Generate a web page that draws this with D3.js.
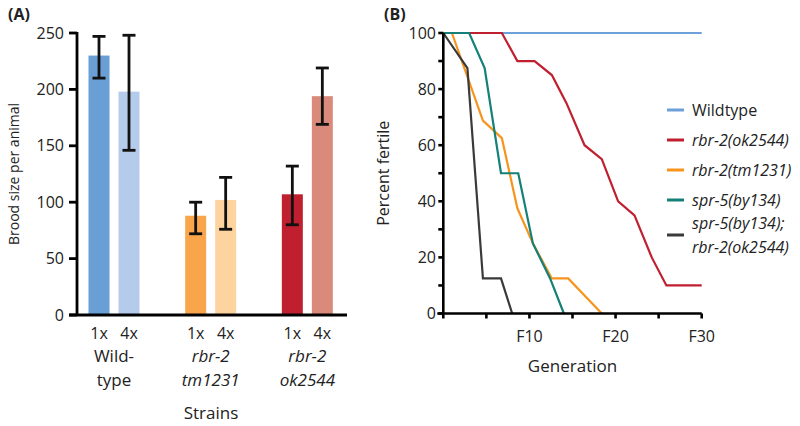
<!DOCTYPE html>
<meta charset="utf-8">
<style>
body { margin: 0; background: #fff; }
text { font-family: "Open Sans", sans-serif; fill: #222; }
</style>
<body>
<script src="https://d3js.org/d3.v7.min.js"></script>
<script>

////*Panel A data*////
const strains = ["wt", "tm1231", "ok2544"];
const strainLines = [["Wild-", "type"], ["rbr-2", "tm1231"], ["rbr-2", "ok2544"]];
const strainItalic = [false, true, true];
const doses = ["1x", "4x"];
const broodMean = [[230, 198], [88, 102], [107, 194]];
const broodLow  = [[210, 146], [72, 76], [80, 169]];
const broodHigh = [[247, 248], [100, 122], [132, 219]];
const barColors = [["#6a9fd6", "#b5cbeb"], ["#f9a54c", "#fdd49f"], ["#c01f2f", "#d98a7b"]];
const broodTicks = [0, 50, 100, 150, 200, 250];

////*Panel B data*////
const seriesNames = ["Wildtype", "rbr-2(ok2544)", "rbr-2(tm1231)", "spr-5(by134)", "spr-5(by134);|rbr-2(ok2544)"];
const seriesColors = ["#6d9fd8", "#c01f2f", "#f7941d", "#148078", "#3a3a3a"];
const wildtypeGen = [0, 30];
const wildtypePct = [100, 100];
const ok2544Gen = [0, 6.8, 8.6, 10.6, 12.6, 14.3, 16.4, 18.4, 20.3, 22.2, 24.2, 25.9, 30];
const ok2544Pct = [100, 100, 90, 90, 85, 75, 60, 55, 40, 35, 20, 10, 10];
const tm1231Gen = [0, 1, 4.6, 6.8, 8.6, 10.4, 12.6, 14.5, 18.4];
const tm1231Pct = [100, 100, 68.75, 62.5, 37.5, 25, 12.5, 12.5, 0];
const by134Gen = [0, 3, 4.8, 6.7, 8.7, 10.4, 12.4, 14];
const by134Pct = [100, 100, 87.5, 50, 50, 25, 12.5, 0];
const doubleGen = [0, 2.8, 4.6, 6.7, 8];
const doublePct = [100, 87.5, 12.5, 12.5, 0];
const genTicks = [0, 5, 10, 15, 20, 25, 30];
const genLabels = {10: "F10", 20: "F20", 30: "F30"};
const pctTicks = [0, 10, 20, 30, 40, 50, 60, 70, 80, 90, 100];

const svg = d3.select("body").append("svg")
   .attr("width", 800)
   .attr("height", 426);

////*Panel A*////
const yA = d3.scaleLinear().domain([0, 250]).range([315, 33]);
const xGroup = d3.scaleBand().domain(strains).range([66, 356]);
const xDose = d3.scaleBand().domain(doses).range([18, 78]).paddingInner(0.3).paddingOuter(0.15);

svg.append("text").attr("x", 8).attr("y", 20)
   .style("font-weight", "bold").style("font-size", "16px").text("(A)");

const groups = svg.append("g").selectAll("g")
   .data(strains)
   .join("g")
   .attr("transform", s => `translate(${xGroup(s)},0)`);

groups.each(function(s, gi) {
   const g = d3.select(this);
   doses.forEach(function(d, di) {
      const x = xDose(d);
      g.append("rect")
         .attr("x", x)
         .attr("y", yA(broodMean[gi][di]))
         .attr("width", xDose.bandwidth())
         .attr("height", yA(0) - yA(broodMean[gi][di]))
         .attr("fill", barColors[gi][di]);
      const cx = x + xDose.bandwidth() / 2;
      const eb = g.append("g").attr("stroke", "#111").attr("stroke-width", 2.8);
      eb.append("line").attr("x1", cx).attr("x2", cx)
         .attr("y1", yA(broodLow[gi][di])).attr("y2", yA(broodHigh[gi][di]));
      [broodLow[gi][di], broodHigh[gi][di]].forEach(v => {
         eb.append("line").attr("x1", cx - 6.5).attr("x2", cx + 6.5)
            .attr("y1", yA(v)).attr("y2", yA(v));
      });
      g.append("text").attr("x", cx).attr("y", 339)
         .attr("text-anchor", "middle").style("font-size", "16px").text(d);
   });
   const cx = xDose("1x") + (xDose("4x") + xDose.bandwidth() - xDose("1x")) / 2;
   strainLines[gi].forEach((t, li) => {
      g.append("text").attr("x", cx).attr("y", 362 + li * 24)
         .attr("text-anchor", "middle")
         .style("font-size", "17px")
         .style("font-style", strainItalic[gi] ? "italic" : "normal")
         .text(t);
   });
});

// axes A
const axA = svg.append("g").attr("stroke", "#000").attr("stroke-width", 2.8);
axA.append("line").attr("x1", 77).attr("x2", 77).attr("y1", yA(250) - 1).attr("y2", yA(0));
axA.append("line").attr("x1", 69).attr("x2", 347).attr("y1", yA(0)).attr("y2", yA(0));
axA.selectAll(".tk").data(broodTicks).join("line")
   .attr("x1", 69).attr("x2", 77).attr("y1", d => yA(d)).attr("y2", d => yA(d));
svg.append("g").selectAll("text").data(broodTicks).join("text")
   .attr("x", 64).attr("y", d => yA(d) + 5.5)
   .attr("text-anchor", "end").style("font-size", "16px").text(d => d);

svg.append("text")
   .attr("transform", `translate(19,${(yA(0) + yA(250)) / 2}) rotate(-90)`)
   .attr("text-anchor", "middle").style("font-size", "14px")
   .text("Brood size per animal");
svg.append("text").attr("x", 211).attr("y", 419)
   .attr("text-anchor", "middle").style("font-size", "17px").text("Strains");

////*Panel B*////
const xB = d3.scaleLinear().domain([0, 30]).range([443.3, 701.7]);
const yB = d3.scaleLinear().domain([0, 100]).range([313.5, 33]);

svg.append("text").attr("x", 384).attr("y", 20)
   .style("font-weight", "bold").style("font-size", "16px").text("(B)");

const seriesData = [
   d3.zip(wildtypeGen, wildtypePct),
   d3.zip(ok2544Gen, ok2544Pct),
   d3.zip(tm1231Gen, tm1231Pct),
   d3.zip(by134Gen, by134Pct),
   d3.zip(doubleGen, doublePct)
];
const line = d3.line().x(p => xB(p[0])).y(p => yB(p[1]));

svg.append("g").selectAll("path")
   .data(seriesData)
   .join("path")
   .attr("d", line)
   .attr("fill", "none")
   .attr("stroke-width", 2.2)
   .attr("stroke-linejoin", "miter")
   .attr("stroke", (d, i) => seriesColors[i]);

const axB = svg.append("g").attr("stroke", "#000").attr("stroke-width", 2.6);
axB.append("line").attr("x1", xB(0)).attr("x2", xB(0)).attr("y1", yB(100)).attr("y2", yB(0));
axB.append("line").attr("x1", xB(0) - 6).attr("x2", xB(30)).attr("y1", yB(0)).attr("y2", yB(0));
axB.selectAll(".ty").data(pctTicks).join("line")
   .attr("x1", xB(0) - 5).attr("x2", xB(0)).attr("y1", d => yB(d)).attr("y2", d => yB(d));
axB.selectAll(".tx").data(genTicks).join("line")
   .attr("x1", d => xB(d)).attr("x2", d => xB(d)).attr("y1", yB(0)).attr("y2", yB(0) + 5);

svg.append("g").selectAll("text").data(pctTicks.filter(d => d % 20 === 0)).join("text")
   .attr("x", 436).attr("y", d => yB(d) + 5.5)
   .attr("text-anchor", "end").style("font-size", "16px").text(d => d);
svg.append("g").selectAll("text").data(genTicks.filter(d => genLabels[d])).join("text")
   .attr("x", d => xB(d)).attr("y", 342)
   .attr("text-anchor", "middle").style("font-size", "16px").text(d => genLabels[d]);

svg.append("text")
   .attr("transform", `translate(389,${(yB(0) + yB(100)) / 2}) rotate(-90)`)
   .attr("text-anchor", "middle").style("font-size", "16px")
   .text("Percent fertile");
svg.append("text").attr("x", xB(15)).attr("y", 372)
   .attr("text-anchor", "middle").style("font-size", "17px").text("Generation");

// legend
const legY = [110, 140, 170, 200, 235];
const leg = svg.append("g").selectAll("g")
   .data(seriesNames)
   .join("g")
   .attr("transform", (d, i) => `translate(667,${legY[i]})`);
leg.append("line").attr("x1", 0).attr("x2", 17).attr("y1", 0).attr("y2", 0)
   .attr("stroke-width", 3).attr("stroke", (d, i) => seriesColors[i]);
leg.each(function(name, i) {
   const parts = name.split("|");
   const t = d3.select(this).append("text").attr("x", 25)
      .style("font-size", "16px")
      .style("font-style", i === 0 ? "normal" : "italic");
   parts.forEach((p, k) => {
      t.append("tspan").attr("x", 25)
         .attr("y", parts.length > 1 ? (k === 0 ? -6 : 18) : 6)
         .text(p);
   });
});

</script>
</body>
